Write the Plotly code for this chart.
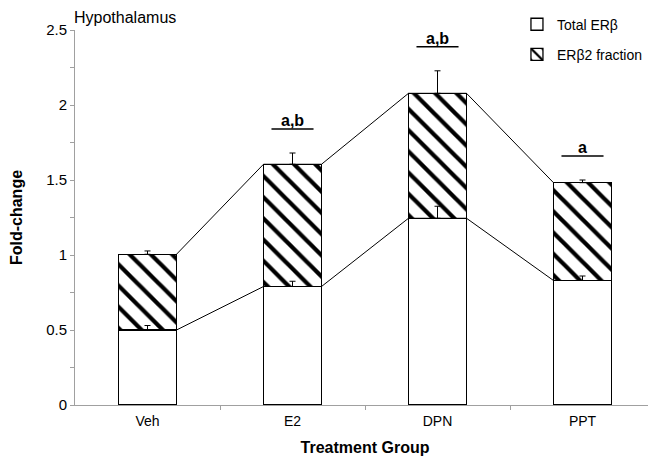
import plotly.graph_objects as go

# data
groups = ['Veh', 'E2', 'DPN', 'PPT']
total_erb = [0.50, 0.79, 1.245, 0.83]
erb2_fraction = [0.505, 0.815, 0.833, 0.652]
total_err = [0.03, 0.035, 0.08, 0.03]
top_err = [0.022, 0.075, 0.15, 0.018]
significance = ['', 'a,b', 'a,b', 'a']

bar_w = 0.4
pos = list(range(len(groups)))
stack_top = [t + f for t, f in zip(total_erb, erb2_fraction)]

fig = go.Figure()

# stacked bars
fig.add_trace(go.Bar(
    x=pos, y=total_erb, name='Total ERβ', width=bar_w, legendgroup='tot',
    marker=dict(color='white', line=dict(color='black', width=1.3)),
))
fig.add_trace(go.Bar(
    x=pos, y=erb2_fraction, name='ERβ2 fraction', width=bar_w, legendgroup='frac',
    marker=dict(color='white', line=dict(color='black', width=1.3),
                pattern=dict(shape='\\', size=15, solidity=0.28, fgopacity=1,
                             fgcolor='black', bgcolor='white')),
))

# series lines joining the bar corners
def series_line(vals):
    xs, ys = [], []
    for i, v in enumerate(vals):
        if i > 0:
            xs.append(i - bar_w / 2)
            ys.append(v)
        if i < len(vals) - 1:
            xs.append(i + bar_w / 2)
            ys.append(v)
    return xs, ys

for vals in (total_erb, stack_top):
    lx, ly = series_line(vals)
    fig.add_trace(go.Scatter(x=lx, y=ly, mode='lines', showlegend=False,
                             line=dict(color='black', width=1), hoverinfo='skip'))

# one-sided error bars (drawn above the bars)
for vals, errs in ((total_erb, total_err), (stack_top, top_err)):
    fig.add_trace(go.Scatter(
        x=pos, y=vals, mode='markers', showlegend=False,
        marker=dict(size=1, opacity=0),
        error_y=dict(type='data', array=errs, arrayminus=[0] * len(errs),
                     symmetric=False, color='black', thickness=1, width=3),
    ))

# significance letters with underline
for i, s in enumerate(significance):
    if not s:
        continue
    y_sig = stack_top[i] + top_err[i] + 0.16
    fig.add_shape(type='line', x0=i - 0.145, x1=i + 0.145, y0=y_sig, y1=y_sig,
                  line=dict(color='black', width=1.5))
    fig.add_annotation(x=i, y=y_sig, text='<b>%s</b>' % s, showarrow=False,
                       yanchor='bottom', yshift=-2,
                       font=dict(size=16, color='black'))

fig.add_annotation(x=0, y=1, xref='paper', yref='paper', xshift=-3, yshift=23,
                   text='Hypothalamus', showarrow=False, xanchor='left', yanchor='top',
                   font=dict(size=16, color='black'))

fig.update_xaxes(
    range=[-0.5, 3.5], tickvals=pos, ticktext=groups, ticks='',
    showline=True, linecolor='#a0a0a0', linewidth=1, showgrid=False, zeroline=False,
    minor=dict(tickvals=[0.5, 1.5, 2.5], ticks='outside', ticklen=4, tickcolor='#a0a0a0'),
    tickfont=dict(size=14, color='black'), ticklabelstandoff=3,
    title=dict(text='<b>Treatment Group</b>', font=dict(size=16, color='black'), standoff=14),
)
fig.update_yaxes(
    range=[0, 2.5], dtick=0.5, ticks='outside', ticklen=4, tickcolor='#a0a0a0',
    showline=True, linecolor='#a0a0a0', linewidth=1, showgrid=False, zeroline=False,
    minor=dict(dtick=0.25, ticks='outside', ticklen=4, tickcolor='#a0a0a0', showgrid=False),
    tickfont=dict(size=15, color='black'),
    title=dict(text='<b>Fold-change</b>', font=dict(size=16, color='black'), standoff=42),
)

# the page puts the figure 8px in from the top-left corner
fig.update_layout(
    width=648, height=450,
    barmode='stack',
    plot_bgcolor='white', paper_bgcolor='white',
    font=dict(family='Liberation Sans, Arial, sans-serif', color='black'),
    margin=dict(l=67, r=1, t=22, b=53, autoexpand=False),
    legend=dict(x=0.762, y=1.057, xanchor='left', yanchor='top',
                font=dict(size=14), traceorder='grouped', tracegroupgap=9,
                bgcolor='rgba(0,0,0,0)'),
)

fig.write_html("out.html")
